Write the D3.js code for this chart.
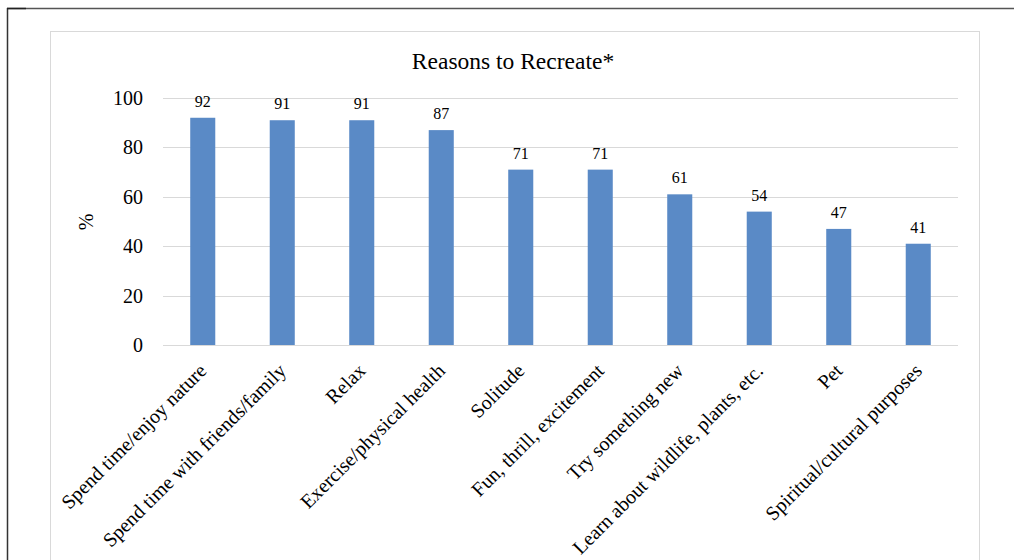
<!DOCTYPE html>
<html>
<head>
<meta charset="utf-8">
<script src="https://cdn.jsdelivr.net/npm/d3@7"></script>
<style>
  html, body { margin: 0; padding: 0; background: #fff; }
  svg { display: block; }
  text { font-family: "Liberation Serif", "Times New Roman", serif; fill: #000; }
</style>
</head>
<body>
<svg id="chart" width="1014" height="560"></svg>
<script>
// Survey categories and share of respondents (%)
const categories = [
  "Spend time/enjoy nature",
  "Spend time with friends/family",
  "Relax",
  "Exercise/physical health",
  "Solitude",
  "Fun, thrill, excitement",
  "Try something new",
  "Learn about wildlife, plants, etc.",
  "Pet",
  "Spiritual/cultural purposes"
];
const values = [92, 91, 91, 87, 71, 71, 61, 54, 47, 41];
const yTicks = [0, 20, 40, 60, 80, 100];
const title = "Reasons to Recreate*";
const yLabel = "%";

const svg = d3.select("#chart");

// page frame
svg.append("line").attr("x1", 7).attr("x2", 1014).attr("y1", 8.5).attr("y2", 8.5)
  .attr("stroke", "#555").attr("stroke-width", 1.5);
svg.append("line").attr("x1", 7.5).attr("x2", 7.5).attr("y1", 8).attr("y2", 560)
  .attr("stroke", "#333").attr("stroke-width", 1.5);
svg.append("line").attr("x1", 7).attr("x2", 26).attr("y1", 8.5).attr("y2", 8.5)
  .attr("stroke", "#222").attr("stroke-width", 1.5);

// chart area border
svg.append("rect").attr("x", 50.5).attr("y", 31.5).attr("width", 929).attr("height", 560)
  .attr("fill", "none").attr("stroke", "#d9d9d9").attr("stroke-width", 1);

const plot = { left: 163, right: 958, top: 98, bottom: 345 };

const x = d3.scaleBand().domain(categories).range([plot.left, plot.right]).paddingInner(0.685).paddingOuter(0.3425);
const y = d3.scaleLinear().domain([0, 100]).range([plot.bottom, plot.top]);

// gridlines
svg.append("g").selectAll("line").data(yTicks).join("line")
  .attr("x1", plot.left).attr("x2", plot.right)
  .attr("y1", d => Math.round(y(d)) + 0.5).attr("y2", d => Math.round(y(d)) + 0.5)
  .attr("stroke", "#d9d9d9").attr("stroke-width", 1);

// y axis labels
const yAxis = d3.axisLeft(y).tickValues(yTicks).tickSize(0).tickPadding(0);
const yg = svg.append("g").attr("transform", `translate(${plot.left - 20},0)`).call(yAxis);
yg.select(".domain").remove();
yg.selectAll("text").style("font-family", "Liberation Serif, serif").style("font-size", "20px").attr("fill", "#000");

// bars
svg.append("g").selectAll("rect").data(values).join("rect")
  .attr("x", (d, i) => x(categories[i]))
  .attr("y", d => y(d))
  .attr("width", x.bandwidth())
  .attr("height", d => y(0) - y(d))
  .attr("fill", "#5a8ac6");

// value labels
svg.append("g").selectAll("text").data(values).join("text")
  .attr("x", (d, i) => x(categories[i]) + x.bandwidth() / 2)
  .attr("y", d => y(d) - 11)
  .attr("text-anchor", "middle")
  .style("font-size", "16px")
  .text(d => d);

// category labels, rotated
svg.append("g").selectAll("text").data(categories).join("text")
  .attr("transform", d => `translate(${x(d) + x.bandwidth() / 2 + 5},${plot.bottom + 27}) rotate(-45)`)
  .attr("text-anchor", "end")
  .style("font-size", "20px")
  .text(d => d);

// y axis title
svg.append("text")
  .attr("transform", "translate(93,222) rotate(-90)")
  .attr("text-anchor", "middle")
  .style("font-size", "20px")
  .text(yLabel);

// chart title
svg.append("text")
  .attr("x", 513).attr("y", 69)
  .attr("text-anchor", "middle")
  .style("font-size", "23.5px")
  .text(title);
</script>
</body>
</html>
